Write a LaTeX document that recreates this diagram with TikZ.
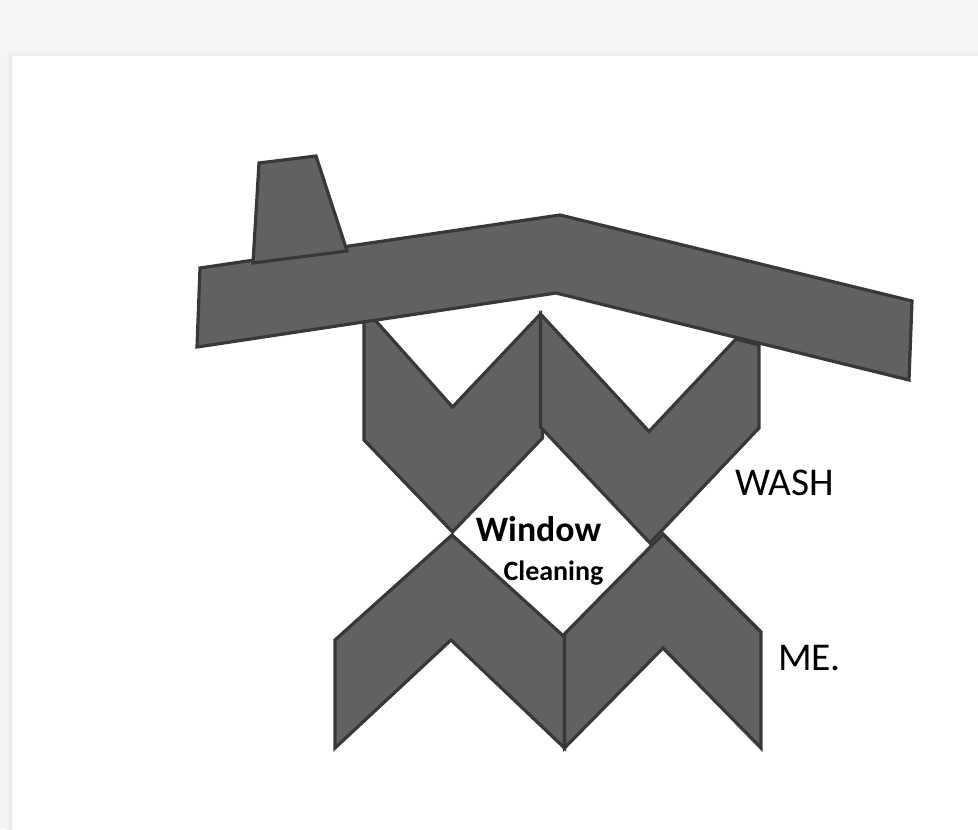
\documentclass[tikz,border=0pt]{standalone}
\usepackage{fontspec}
\setmainfont{Carlito}
\definecolor{pagegrey}{HTML}{F5F5F5}
\definecolor{edgegrey}{HTML}{E9E9E9}
\definecolor{shapefill}{HTML}{616161}
\definecolor{shapeline}{HTML}{383838}
\tikzset{
  block/.style={fill=shapefill,draw=shapeline,line width=2.4pt,line join=miter,miter limit=3},
  bigtext/.style={font=\fontsize{29.5}{32}\selectfont,anchor=base,inner sep=0pt},
  boldone/.style={font=\bfseries\fontsize{26.8}{30}\selectfont,anchor=base,inner sep=0pt},
  boldtwo/.style={font=\bfseries\fontsize{21}{25}\selectfont,anchor=base,inner sep=0pt}
}
\begin{document}
\begin{tikzpicture}[x=0.75pt,y=-0.75pt]
\useasboundingbox (0,0) rectangle (978,829);
% page background
\fill[pagegrey] (0,0) rectangle (978,829);
\shade[top color=pagegrey,bottom color=edgegrey] (8,50) rectangle (978,56);
\shade[left color=pagegrey,right color=edgegrey] (6,56) rectangle (12,829);
\fill[white] (12,56) rectangle (978,829);
% scissor legs
\draw[block] (364,320) -- (375,320) -- (452.5,407) -- (540.5,314) -- (542.5,438) -- (452.5,532) -- (364,440) -- cycle;
\draw[block] (540.5,314) -- (649,431.5) -- (736,339) -- (759,345) -- (759,428) -- (650,543) -- (540.5,427) -- cycle;
\draw[block] (335,640) -- (452,535) -- (564.5,637) -- (564.5,748) -- (451,640) -- (335,748) -- cycle;
\draw[block] (564.5,634) -- (663,534) -- (761,632) -- (761,748) -- (663,648) -- (564.5,748) -- cycle;
% roof and chimney
\draw[block] (200,268) -- (560,215) -- (912,301) -- (909,380) -- (556,293) -- (197,347) -- cycle;
\draw[block] (259,163) -- (316,156) -- (347,251) -- (253,263) -- cycle;
% labels
\node[bigtext] (wash) at (785,495) {WASH};
\node[bigtext] (me) at (809.5,670) {ME.};
\node[boldone] (window) at (538.5,541) {Window};
\node[boldtwo] (cleaning) at (553.5,580.5) {Cleaning};
\end{tikzpicture}
\end{document}
